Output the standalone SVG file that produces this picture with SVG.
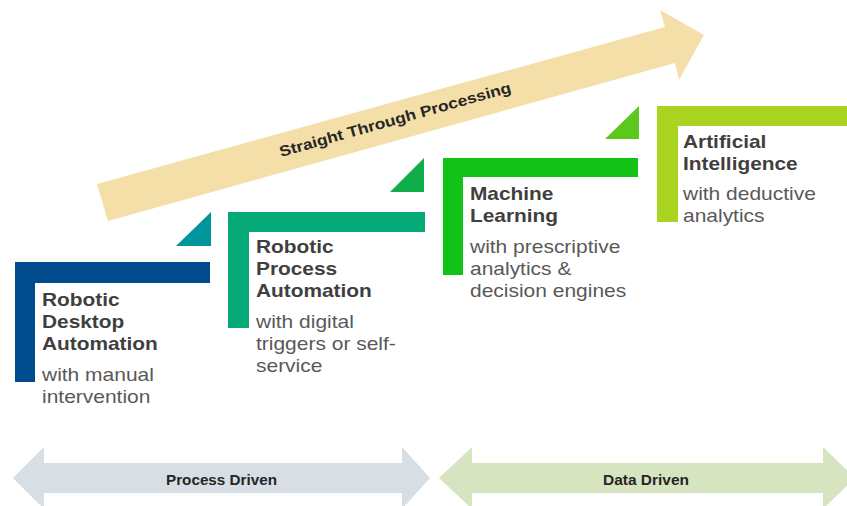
<svg xmlns="http://www.w3.org/2000/svg" width="847" height="506" viewBox="0 0 847 506">
  <style>
    .title { font-family: "Liberation Sans", Arial, sans-serif; font-weight: bold; font-size: 18.3px; fill: #3f3f3f; }
    .body { font-family: "Liberation Sans", Arial, sans-serif; font-size: 18.4px; fill: #595959; }
    .band { font-family: "Liberation Sans", Arial, sans-serif; font-weight: bold; font-size: 15px; fill: #262626; }
  </style>
  <rect width="847" height="506" fill="#ffffff"/>

  <!-- Straight Through Processing arrow -->
  <g id="stp-arrow">
    <polygon points="97,184 665,27 660,10 704,35 679,80 675,63 108,221" fill="#f5dfa9"/>
    <text class="band" transform="translate(396.5,124.5) rotate(-15.7)" text-anchor="middle" textLength="240" lengthAdjust="spacingAndGlyphs" x="0" y="0">Straight Through Processing</text>
  </g>

  <!-- Stage 1 -->
  <g id="rda">
    <polygon points="176,246 211,212 211,246" fill="#00959c"/>
    <polygon points="15,262 210,262 210,283 35,283 35,382 15,382" fill="#004b8d"/>
    <g transform="translate(42,0) scale(1.14,1)">
      <text class="title" x="0" y="306">Robotic</text>
      <text class="title" x="0" y="328">Desktop</text>
      <text class="title" x="0" y="350">Automation</text>
      <text class="body" x="0" y="381">with manual</text>
      <text class="body" x="0" y="403">intervention</text>
    </g>
  </g>

  <!-- Stage 2 -->
  <g id="rpa">
    <polygon points="390,192 424,158 424,192" fill="#12ad4b"/>
    <polygon points="228,212 425,212 425,232 249,232 249,328 228,328" fill="#05a877"/>
    <g transform="translate(256,0) scale(1.14,1)">
      <text class="title" x="0" y="253">Robotic</text>
      <text class="title" x="0" y="275">Process</text>
      <text class="title" x="0" y="297">Automation</text>
      <text class="body" x="0" y="328">with digital</text>
      <text class="body" x="0" y="350">triggers or self-</text>
      <text class="body" x="0" y="372">service</text>
    </g>
  </g>

  <!-- Stage 3 -->
  <g id="ml">
    <polygon points="605,139 639,106 639,139" fill="#5cc81e"/>
    <polygon points="443,158 638,158 638,177 463,177 463,275 443,275" fill="#13c217"/>
    <g transform="translate(470,0) scale(1.14,1)">
      <text class="title" x="0" y="200">Machine</text>
      <text class="title" x="0" y="222">Learning</text>
      <text class="body" x="0" y="253">with prescriptive</text>
      <text class="body" x="0" y="275">analytics &amp;</text>
      <text class="body" x="0" y="297">decision engines</text>
    </g>
  </g>

  <!-- Stage 4 -->
  <g id="ai">
    <polygon points="657,106 847,106 847,126 678,126 678,222 657,222" fill="#a9d420"/>
    <g transform="translate(683,0) scale(1.14,1)">
      <text class="title" x="0" y="148">Artificial</text>
      <text class="title" x="0" y="170">Intelligence</text>
      <text class="body" x="0" y="200">with deductive</text>
      <text class="body" x="0" y="222">analytics</text>
    </g>
  </g>

  <!-- Bottom ranges -->
  <g id="connectors">
    <g id="process-driven">
      <polygon points="13,478 44,447 44,463 402,463 402,447 430,478 402,509 402,493 44,493 44,509" fill="#d7dee4"/>
      <text class="band" x="221.5" y="485" text-anchor="middle" textLength="111" lengthAdjust="spacingAndGlyphs">Process Driven</text>
    </g>
    <g id="data-driven">
      <polygon points="439,478 472,447 472,463 823,463 823,447 855,478 823,509 823,493 472,493 472,509" fill="#d6e4bf"/>
      <text class="band" x="646" y="485" text-anchor="middle" textLength="86" lengthAdjust="spacingAndGlyphs">Data Driven</text>
    </g>
  </g>
</svg>
